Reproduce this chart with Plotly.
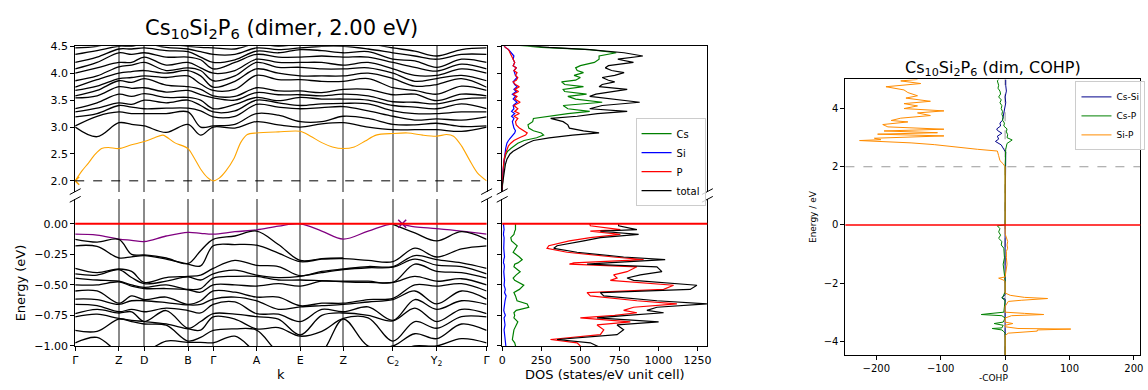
import plotly.graph_objects as go

W, H = 1148, 390

# ---------------- k path ----------------
k_ticks = [0.0, 44.0, 69.6, 113.6, 139.0, 182.6, 226.6, 270.0, 320.0, 364.0, 414.3]
k_labels = ["Γ", "Z", "D", "B", "Γ", "A", "E", "Z", "C<sub>2</sub>", "Y<sub>2</sub>", "Γ"]
k_samples = [0.0, 22.0, 44.0, 56.8, 69.6, 91.6, 113.6, 126.3, 139.0, 160.8, 182.6,
             204.6, 226.6, 248.3, 270.0, 295.0, 320.0, 342.0, 364.0, 389.0, 414.3]

# lowest conduction band (orange), sampled more densely
cb1_k = [0.0, 6.6, 13.3, 20.0, 26.6, 33.3, 44.0, 56.8, 69.6, 80.0, 88.3, 100.0, 113.6, 120.0,
         126.6, 133.3, 139.0, 145.0, 151.6, 160.0, 166.6, 173.3, 182.6, 204.6, 226.6, 237.0,
         248.3, 259.0, 270.0, 281.0, 292.0, 303.0, 320.0, 335.0, 350.0, 364.0, 374.0, 381.0,
         389.0, 397.0, 405.0, 414.3]
cb1_E = [2.0, 2.18, 2.33, 2.49, 2.6, 2.62, 2.6, 2.67, 2.73, 2.8, 2.85, 2.71, 2.6, 2.42,
         2.21, 2.06, 2.0, 2.05, 2.18, 2.42, 2.71, 2.86, 2.89, 2.91, 2.92, 2.83,
         2.71, 2.63, 2.6, 2.63, 2.74, 2.85, 2.88, 2.89, 2.85, 2.83, 2.86, 2.83,
         2.65, 2.39, 2.15, 2.0]

# higher conduction bands (black), energies at each k sample
cb_gamma = [3.0, 3.02, 3.19, 3.28, 3.34, 3.54, 3.58, 3.68, 3.74, 3.86, 4.0, 4.08, 4.2, 4.35, 4.47]
cond_cols = [
    cb_gamma,
    [2.82, 3.2, 3.25, 3.35, 3.45, 3.58, 3.68, 3.76, 3.88, 3.95, 4.1, 4.2, 4.3, 4.42, 4.5],
    [3.08, 3.28, 3.4, 3.45, 3.61, 3.75, 3.86, 3.9, 4.0, 4.12, 4.2, 4.38, 4.45, 4.5, 4.6],
    [3.05, 3.25, 3.37, 3.42, 3.57, 3.72, 3.83, 3.92, 4.03, 4.15, 4.2, 4.35, 4.45, 4.5, 4.6],
    [3.02, 3.25, 3.34, 3.5, 3.62, 3.73, 3.9, 3.95, 4.05, 4.2, 4.3, 4.38, 4.47, 4.55, 4.6],
    [2.9, 3.25, 3.35, 3.45, 3.55, 3.65, 3.78, 3.92, 4.0, 4.05, 4.15, 4.3, 4.42, 4.48, 4.55],
    [3.05, 3.28, 3.35, 3.5, 3.55, 3.68, 3.75, 3.95, 4.05, 4.1, 4.2, 4.3, 4.4, 4.45, 4.5],
    [2.85, 3.0, 3.3, 3.4, 3.5, 3.6, 3.7, 3.8, 3.95, 4.05, 4.1, 4.25, 4.3, 4.4, 4.48],
    cb_gamma,
    [2.98, 3.05, 3.2, 3.3, 3.42, 3.5, 3.57, 3.7, 3.85, 3.95, 4.05, 4.2, 4.25, 4.35, 4.45],
    [3.1, 3.25, 3.42, 3.5, 3.55, 3.64, 3.73, 3.96, 4.08, 4.2, 4.26, 4.35, 4.41, 4.47, 4.55],
    [3.04, 3.22, 3.37, 3.45, 3.49, 3.6, 3.67, 3.88, 4.0, 4.11, 4.2, 4.3, 4.38, 4.44, 4.5],
    [3.0, 3.1, 3.34, 3.4, 3.55, 3.6, 3.67, 3.88, 3.95, 4.11, 4.2, 4.3, 4.44, 4.47, 4.55],
    [3.06, 3.1, 3.36, 3.43, 3.52, 3.58, 3.64, 3.85, 3.95, 4.08, 4.2, 4.32, 4.42, 4.5, 4.6],
    [3.08, 3.2, 3.38, 3.44, 3.52, 3.61, 3.7, 3.85, 3.95, 4.08, 4.15, 4.3, 4.38, 4.5, 4.6],
    [3.0, 3.16, 3.3, 3.43, 3.5, 3.58, 3.7, 3.9, 4.0, 4.1, 4.2, 4.3, 4.4, 4.45, 4.55],
    [2.95, 3.05, 3.2, 3.3, 3.4, 3.47, 3.6, 3.73, 3.9, 4.0, 4.08, 4.2, 4.26, 4.38, 4.47],
    [2.95, 3.04, 3.13, 3.25, 3.37, 3.46, 3.61, 3.68, 3.76, 3.85, 3.96, 4.11, 4.23, 4.32, 4.41],
    [2.95, 3.07, 3.15, 3.25, 3.34, 3.43, 3.49, 3.61, 3.79, 3.9, 3.96, 4.04, 4.11, 4.26, 4.32],
    [2.92, 3.01, 3.13, 3.28, 3.43, 3.52, 3.61, 3.76, 3.9, 3.96, 4.08, 4.17, 4.26, 4.35, 4.44],
    cb_gamma,
]

# valence bands (first = highest, purple)
vb_gamma = [-0.085, -0.127, -0.18, -0.365, -0.41, -0.444, -0.5, -0.55, -0.616, -0.66, -0.735, -0.762, -0.873, -0.974]
val_cols = [
    vb_gamma,
    [-0.093, -0.15, -0.185, -0.4, -0.42, -0.46, -0.5, -0.55, -0.62, -0.67, -0.7, -0.74, -0.88, -0.93],
    [-0.125, -0.128, -0.28, -0.37, -0.375, -0.47, -0.475, -0.65, -0.66, -0.72, -0.73, -0.775, -0.78, -1.05],
    [-0.135, -0.25, -0.27, -0.39, -0.44, -0.5, -0.51, -0.59, -0.63, -0.7, -0.72, -0.79, -0.8, -1.05],
    [-0.145, -0.255, -0.26, -0.48, -0.49, -0.52, -0.53, -0.62, -0.63, -0.72, -0.8, -0.8, -0.82, -1.05],
    [-0.1, -0.28, -0.29, -0.44, -0.47, -0.5, -0.53, -0.6, -0.645, -0.69, -0.71, -0.82, -0.83, -0.96],
    [-0.07, -0.325, -0.33, -0.43, -0.435, -0.537, -0.54, -0.66, -0.664, -0.71, -0.855, -0.86, -0.96, -0.97],
    [-0.078, -0.22, -0.345, -0.42, -0.46, -0.53, -0.56, -0.63, -0.66, -0.73, -0.8, -0.87, -0.93, -0.97],
    vb_gamma,
    [-0.065, -0.1, -0.17, -0.3, -0.38, -0.43, -0.5, -0.56, -0.6, -0.64, -0.74, -0.78, -0.86, -0.92],
    [-0.05, -0.06, -0.175, -0.34, -0.42, -0.43, -0.51, -0.6, -0.63, -0.735, -0.76, -0.86, -0.87, -1.05],
    [-0.02, -0.17, -0.24, -0.35, -0.44, -0.46, -0.49, -0.6, -0.7, -0.74, -0.78, -0.85, -1.05, -1.1],
    [0.0, -0.3, -0.31, -0.425, -0.43, -0.46, -0.51, -0.67, -0.68, -0.8, -0.91, -0.92, -1.1, -1.1],
    [-0.06, -0.285, -0.29, -0.39, -0.4, -0.465, -0.47, -0.65, -0.67, -0.7, -0.75, -0.88, -1.05, -1.1],
    [-0.125, -0.28, -0.285, -0.37, -0.375, -0.47, -0.475, -0.65, -0.66, -0.72, -0.73, -0.775, -0.78, -1.05],
    [-0.06, None, -0.3, -0.35, -0.36, -0.47, -0.48, -0.62, -0.64, -0.68, -0.75, -0.77, -1.0, -1.05],
    [0.0, -0.005, -0.31, -0.35, -0.355, -0.48, -0.48, -0.61, -0.62, -0.79, -0.795, -0.96, -1.0, -1.05],
    [-0.025, -0.075, -0.2, -0.26, -0.29, -0.33, -0.43, -0.5, -0.55, -0.62, -0.69, -0.8, -0.9, -1.0],
    [-0.04, -0.14, -0.272, -0.294, -0.339, -0.39, -0.47, -0.51, -0.656, -0.7, -0.8, -0.855, -0.94, -1.0],
    [-0.06, -0.065, -0.205, -0.32, -0.35, -0.4, -0.45, -0.49, -0.55, -0.63, -0.7, -0.76, -0.82, -0.94],
    vb_gamma,
]

gap_line_E = 2.0
cbm_k, cbm_E = 0.0, 2.0
vbm_k, vbm_E = 329.3, 0.0

# ---------------- DOS ----------------
dos_up_E = [1.80, 1.90, 2.00, 2.10, 2.20, 2.30, 2.40, 2.50, 2.55, 2.60, 2.65, 2.70, 2.75, 2.80, 2.85,
            2.89, 2.93, 2.98, 3.04, 3.10, 3.16, 3.20, 3.25, 3.29, 3.34, 3.40, 3.46, 3.52, 3.57, 3.61,
            3.66, 3.70, 3.75, 3.79, 3.84, 3.87, 3.92, 3.96, 4.01, 4.05, 4.10, 4.14, 4.20, 4.26, 4.32,
            4.38, 4.44, 4.48, 4.52]
dos_up_total = [0, 0, 5, 10, 15, 20, 30, 50, 70, 100, 130, 160, 200, 300, 450,
                620, 520, 430, 420, 390, 310, 480, 610, 800, 560, 640, 880, 680, 560, 600,
                700, 800, 620, 640, 720, 680, 640, 720, 780, 700, 660, 680, 840, 740, 900,
                780, 560, 300, 150]
dos_up_cs = [0, 0, 3, 5, 8, 10, 15, 25, 35, 55, 80, 100, 140, 220, 265,
             250, 200, 170, 165, 195, 200, 300, 420, 560, 420, 390, 640, 470, 420, 540,
             400, 390, 520, 400, 380, 470, 500, 460, 520, 480, 470, 500, 590, 620, 620,
             730, 560, 250, 100]
dos_up_si = [0, 0, 2, 3, 5, 8, 12, 18, 20, 22, 25, 30, 40, 55, 70,
             80, 85, 75, 70, 65, 75, 60, 80, 60, 75, 70, 95, 70, 85, 65,
             90, 75, 95, 80, 70, 80, 95, 85, 80, 75, 90, 70, 80, 70, 75,
             60, 40, 20, 10]
dos_up_p = [0, 0, 2, 3, 5, 8, 12, 20, 25, 30, 40, 55, 75, 110, 150,
            160, 140, 110, 90, 85, 100, 75, 110, 80, 100, 75, 115, 80, 95, 70,
            105, 80, 110, 85, 70, 90, 100, 85, 95, 75, 90, 70, 80, 70, 65,
            55, 40, 20, 10]

dos_lo_E = [0.0, -0.016, -0.048, -0.061, -0.087, -0.114, -0.140, -0.180, -0.201, -0.233, -0.272,
            -0.294, -0.320, -0.331, -0.352, -0.392, -0.418, -0.444, -0.463, -0.503, -0.537, -0.563,
            -0.590, -0.630, -0.656, -0.683, -0.709, -0.728, -0.749, -0.770, -0.802, -0.828, -0.868,
            -0.907, -0.947, -0.974, -1.000, -1.02]
dos_lo_total = [745, 745, 862, 628, 873, 628, 522, 351, 330, 479, 777, 1043, 671, 543, 990, 1022,
                884, 799, 841, 1246, 1203, 628, 650, 990, 1310, 990, 926, 1033, 799, 607, 1001, 735,
                777, 735, 351, 564, 607, 640]
dos_lo_p = [560, 564, 756, 564, 756, 564, 430, 298, 287, 415, 713, 905, 458, 430, 862, 799,
            713, 735, 692, 1097, 1033, 543, 564, 862, 1118, 841, 777, 862, 720, 500, 820, 607,
            650, 628, 309, 479, 500, 520]
dos_lo_cs = [85, 85, 85, 80, 75, 55, 60, 96, 85, 70, 110, 128, 100, 80, 75, 115,
             90, 70, 80, 138, 110, 75, 85, 95, 160, 170, 90, 75, 80, 75, 100, 90,
             75, 70, 65, 80, 85, 90]
dos_lo_si = [8, 10, 12, 10, 8, 12, 10, 8, 10, 12, 15, 10, 8, 12, 14, 10,
             12, 18, 15, 12, 20, 15, 25, 18, 15, 12, 10, 14, 20, 12, 15, 18,
             12, 15, 20, 22, 25, 25]

# ---------------- COHP ----------------
cohp_sip_E = [-4.48, -3.8, -3.72, -3.68, -3.65, -3.61, -3.58, -3.56, -3.5, -3.45, -3.39, -3.34,
              -3.2, -3.12, -3.08, -3.04, -3.0, -2.8, -2.63, -2.59, -2.53, -2.49, -2.42, -2.34,
              -1.95, -1.9, -1.83, -1.79, -1.51, -1.35, -1.13, -0.91, -0.8, -0.69, -0.57, -0.46,
              -0.3, 0.0, 2.0, 2.1, 2.21, 2.38, 2.54, 2.6, 2.67, 2.76, 2.82, 2.9, 2.93, 2.98,
              3.06, 3.12, 3.17, 3.23, 3.29, 3.37, 3.45, 3.54, 3.59, 3.67, 3.76, 3.85, 3.92, 4.0,
              4.09, 4.17, 4.25, 4.36, 4.44, 4.55, 4.64, 4.75, 4.86, 4.95, 5.0]
cohp_sip = [0, 0, 5, 30, 50, 50, 102, 20, 0, 0, 12, 0,
            0, 10, 60, 30, 0, 0, 5, 25, 66, 30, 8, 0,
            0, -2, -10, 0, 2, 3, 2, 2, 4, 3, 4, 2,
            0, 0, 0, -3, -8, -10, -12, -43, -69, -110, -146, -226, -193, -203,
            -95, -198, -105, -188, -95, -182, -190, -151, -177, -162, -116, -136, -95, -157,
            -136, -157, -116, -154, -136, -151, -157, -185, -131, -162, -136]

cohp_csp_E = [-4.48, -3.72, -3.67, -3.61, -3.56, -3.54, -3.45, -3.39, -3.34, -3.2, -3.12, -3.08,
              -3.05, -3.0, -2.6, -2.51, -2.45, -2.3, -1.9, -1.51, -1.35, -1.13, -0.8, -0.69,
              -0.57, -0.46, -0.35, -0.24, -0.13, -0.03, 0.0, 2.0, 2.3, 2.6, 2.8, 2.92, 3.0,
              3.1, 3.2, 3.3, 3.4, 3.5, 3.6, 3.7, 3.8, 3.9, 4.0, 4.1, 4.2, 4.3, 4.4, 4.5,
              4.6, 4.7, 4.8, 4.95, 5.0]
cohp_csp = [0, 0, -2, -5, -20, -5, -3, -17, -3, 0, -5, -37,
            -25, -2, 0, -5, -3, 0, 0, -2, -3, -1, -2, -6,
            -5, -10, -7, -10, -8, -12, 0, 0, 1, 1, 3, 11, 3,
            4, 2, 3, -2, -1, -4, -3, -5, -4, -6, -5, -8, -6, -10, -7,
            -8, -11, -10, -12, -10]

cohp_cssi_E = [-4.48, -2.6, -2.55, -2.5, -2.45, -2.4, 0.0, 2.0, 2.1, 2.3, 2.5, 2.6, 2.75, 2.87,
               2.95, 3.05, 3.15, 3.25, 3.3, 3.4, 3.5, 3.6, 3.8, 4.0, 4.2, 4.4, 4.6, 4.8, 5.0]
cohp_cssi = [0, 0, 0, -5, -3, 0, 0, 0, 0, 1, 1, -2, -6, -15,
             -10, -12, -5, -12, -13, -7, -8, -4, -2, -1, 1, 0, 2, 1, 1]

# ---------------- figure ----------------
fig = go.Figure()


def px_x(p):
    return p / W


def px_y(p):
    return 1 - p / H


n_cb = len(cond_cols[0])
for j in range(n_cb):
    fig.add_trace(go.Scatter(
        x=k_samples, y=[col[j] for col in cond_cols], xaxis="x", yaxis="y", mode="lines",
        line=dict(color="black", width=1.3, shape="spline", smoothing=1.0),
        showlegend=False, hoverinfo="skip"))
fig.add_trace(go.Scatter(
    x=cb1_k, y=cb1_E, xaxis="x", yaxis="y", mode="lines",
    line=dict(color="#ffa500", width=1.1, shape="spline", smoothing=0.8),
    showlegend=False, hoverinfo="skip"))

n_vb = len(val_cols[0])
for j in range(n_vb):
    fig.add_trace(go.Scatter(
        x=k_samples, y=[col[j] for col in val_cols], xaxis="x2", yaxis="y2", mode="lines",
        connectgaps=False,
        line=dict(color="#800080" if j == 0 else "black", width=1.3,
                  shape="spline", smoothing=1.0),
        showlegend=False, hoverinfo="skip"))

# markers at band edges
fig.add_trace(go.Scatter(x=[cbm_k], y=[cbm_E], xaxis="x", yaxis="y", mode="markers",
                         marker=dict(symbol="x-thin", size=8, line=dict(color="#ffa500", width=1.5)),
                         showlegend=False, hoverinfo="skip"))
fig.add_trace(go.Scatter(x=[vbm_k], y=[vbm_E], xaxis="x2", yaxis="y2", mode="markers",
                         marker=dict(symbol="x-thin", size=8, line=dict(color="#800080", width=1.5)),
                         showlegend=False, hoverinfo="skip"))

# DOS traces
dos_series = [("Cs", "green", dos_up_cs, dos_lo_cs),
              ("Si", "blue", dos_up_si, dos_lo_si),
              ("P", "red", dos_up_p, dos_lo_p),
              ("total", "black", dos_up_total, dos_lo_total)]
for name, color, up, lo in dos_series:
    fig.add_trace(go.Scatter(x=up, y=dos_up_E, xaxis="x3", yaxis="y3", mode="lines",
                             line=dict(color=color, width=1.2), name=name, legend="legend",
                             showlegend=True, hoverinfo="skip"))
    fig.add_trace(go.Scatter(x=lo, y=dos_lo_E, xaxis="x4", yaxis="y4", mode="lines",
                             line=dict(color=color, width=1.2), name=name, legend="legend",
                             showlegend=False, hoverinfo="skip"))

# COHP traces
for name, color, xs, ys in [("Cs-Si", "#00008b", cohp_cssi, cohp_cssi_E),
                            ("Cs-P", "green", cohp_csp, cohp_csp_E),
                            ("Si-P", "#ff8c00", cohp_sip, cohp_sip_E)]:
    fig.add_trace(go.Scatter(x=xs, y=ys, xaxis="x5", yaxis="y5", mode="lines",
                             line=dict(color=color, width=1), name=name, legend="legend2",
                             hoverinfo="skip"))

# ---------------- axes ----------------
band_dom = [px_x(71.7), px_x(486.0)]
dos_dom = [px_x(501.7), px_x(708.3)]
up_dom = [px_y(192), px_y(41.7)]
lo_dom = [px_y(351.7), px_y(200)]
font_tick = dict(family="DejaVu Sans", size=11, color="black")
font_tick_small = dict(family="DejaVu Sans", size=10, color="black")

common = dict(showline=True, linecolor="black", linewidth=1, zeroline=False,
              ticklen=4, tickwidth=1, tickcolor="black", tickfont=font_tick)
common_small = {**common, "tickfont": font_tick_small}

fig.update_layout(
    width=W, height=H, margin=dict(l=0, r=0, t=0, b=0),
    paper_bgcolor="white", plot_bgcolor="white",
    font=dict(family="DejaVu Sans", color="black"),
    xaxis=dict(domain=band_dom, range=[0, k_ticks[-1]], anchor="y", side="top",
               tickvals=k_ticks, showticklabels=False, ticks="", showgrid=True,
               gridcolor="#8a8a8a", gridwidth=2, **common),
    yaxis=dict(domain=up_dom, range=[1.8, 4.5], anchor="x", mirror=True, ticks="outside",
               tickvals=[2.0, 2.5, 3.0, 3.5, 4.0, 4.5], tickformat=".1f", showgrid=False, **common),
    xaxis2=dict(domain=band_dom, range=[0, k_ticks[-1]], anchor="y2", side="bottom",
                tickvals=k_ticks, ticktext=k_labels, ticks="outside", showgrid=True,
                gridcolor="#8a8a8a", gridwidth=2, **common),
    yaxis2=dict(domain=lo_dom, range=[-1.0, 0.2], anchor="x2", mirror=True, ticks="outside",
                tickvals=[-1.0, -0.75, -0.5, -0.25, 0.0], tickformat=".2f", showgrid=False, **common),
    xaxis3=dict(domain=dos_dom, range=[0, 1313], anchor="y3", side="top", showticklabels=False,
                ticks="", showgrid=False, **common),
    yaxis3=dict(domain=up_dom, range=[1.8, 4.5], anchor="x3", mirror=True, ticks="outside",
                tickvals=[2.0, 2.5, 3.0, 3.5, 4.0, 4.5], showticklabels=False, showgrid=False, **common),
    xaxis4=dict(domain=dos_dom, range=[0, 1313], anchor="y4", side="bottom", ticks="outside",
                tickvals=[0, 250, 500, 750, 1000, 1250], showgrid=False, **common),
    yaxis4=dict(domain=lo_dom, range=[-1.0, 0.2], anchor="x4", mirror=True, ticks="outside",
                tickvals=[-1.0, -0.75, -0.5, -0.25, 0.0], showticklabels=False, showgrid=False, **common),
    xaxis5=dict(domain=[px_x(847.3), px_x(1144.3)], range=[-248, 210], anchor="y5", mirror=True,
                ticks="outside", tickvals=[-200, -100, 0, 100, 200], showgrid=False, **common_small),
    yaxis5=dict(domain=[px_y(361.3), px_y(76)], range=[-4.48, 5.0], anchor="x5", mirror=True,
                ticks="outside", tickvals=[-4, -2, 0, 2, 4], showgrid=False, **common_small),
    legend=dict(x=px_x(636), y=px_y(116), xanchor="left", yanchor="top",
                bgcolor="rgba(255,255,255,0.8)", bordercolor="#cccccc", borderwidth=1,
                font=dict(family="DejaVu Sans", size=10), itemwidth=30, tracegroupgap=0),
    legend2=dict(x=px_x(1079), y=px_y(78), xanchor="left", yanchor="top",
                 bgcolor="rgba(255,255,255,0.8)", bordercolor="#cccccc", borderwidth=1,
                 font=dict(family="DejaVu Sans", size=9), itemwidth=30, tracegroupgap=0),
)

shapes = []
# dashed line at gap energy in band panel
shapes.append(dict(type="line", xref="x domain", yref="y", x0=0, x1=1, y0=gap_line_E, y1=gap_line_E,
                   line=dict(color="black", width=1, dash="dash")))
# Fermi level lines
for xr, yr in [("x2 domain", "y2"), ("x4 domain", "y4"), ("x5 domain", "y5")]:
    shapes.append(dict(type="line", xref=xr, yref=yr, x0=0, x1=1, y0=0, y1=0,
                       line=dict(color="red", width=2 if xr != "x5 domain" else 1.5)))
# COHP reference lines
shapes.append(dict(type="line", xref="x5 domain", yref="y5", x0=0, x1=1, y0=gap_line_E, y1=gap_line_E,
                   line=dict(color="gray", width=0.8, dash="dash"), layer="below"))
shapes.append(dict(type="line", xref="x5", yref="y5 domain", x0=0, x1=0, y0=0, y1=1,
                   line=dict(color="gray", width=0.8, dash="dash"), layer="below"))
# broken-axis marks
for cx in [71.7, 486.0, 501.7, 708.3]:
    for cy in [192, 200]:
        shapes.append(dict(type="line", xref="paper", yref="paper",
                           x0=px_x(cx - 5.5), y0=px_y(cy + 3), x1=px_x(cx + 5.5), y1=px_y(cy - 3),
                           line=dict(color="black", width=1)))
fig.update_layout(shapes=shapes)

annotations = [
    dict(text="Cs<sub>10</sub>Si<sub>2</sub>P<sub>6</sub> (dimer, 2.00 eV)", x=px_x(279), y=px_y(24),
         xref="paper", yref="paper", showarrow=False, xanchor="center", yanchor="middle",
         font=dict(size=21, family="DejaVu Sans")),
    dict(text="Cs<sub>10</sub>Si<sub>2</sub>P<sub>6</sub> (dim, COHP)", x=px_x(996), y=px_y(65),
         xref="paper", yref="paper", showarrow=False, xanchor="center", yanchor="middle",
         font=dict(size=16, family="DejaVu Sans")),
    dict(text="Energy (eV)", x=px_x(17), y=px_y(286), xref="paper", yref="paper", showarrow=False,
         textangle=-90, xanchor="center", yanchor="middle", font=dict(size=13, family="DejaVu Sans")),
    dict(text="k", x=px_x(279), y=px_y(381), xref="paper", yref="paper", showarrow=False,
         xanchor="center", yanchor="middle", font=dict(size=13, family="DejaVu Sans")),
    dict(text="DOS (states/eV unit cell)", x=px_x(605), y=px_y(381), xref="paper", yref="paper",
         showarrow=False, xanchor="center", yanchor="middle", font=dict(size=13, family="DejaVu Sans")),
    dict(text="Energy / eV", x=px_x(814), y=px_y(218), xref="paper", yref="paper", showarrow=False,
         textangle=-90, xanchor="center", yanchor="middle", font=dict(size=9, family="DejaVu Sans")),
    dict(text="-COHP", x=px_x(996), y=px_y(385), xref="paper", yref="paper", showarrow=False,
         xanchor="center", yanchor="middle", font=dict(size=9, family="DejaVu Sans")),
]
fig.update_layout(annotations=annotations)

fig.write_html("out.html")
